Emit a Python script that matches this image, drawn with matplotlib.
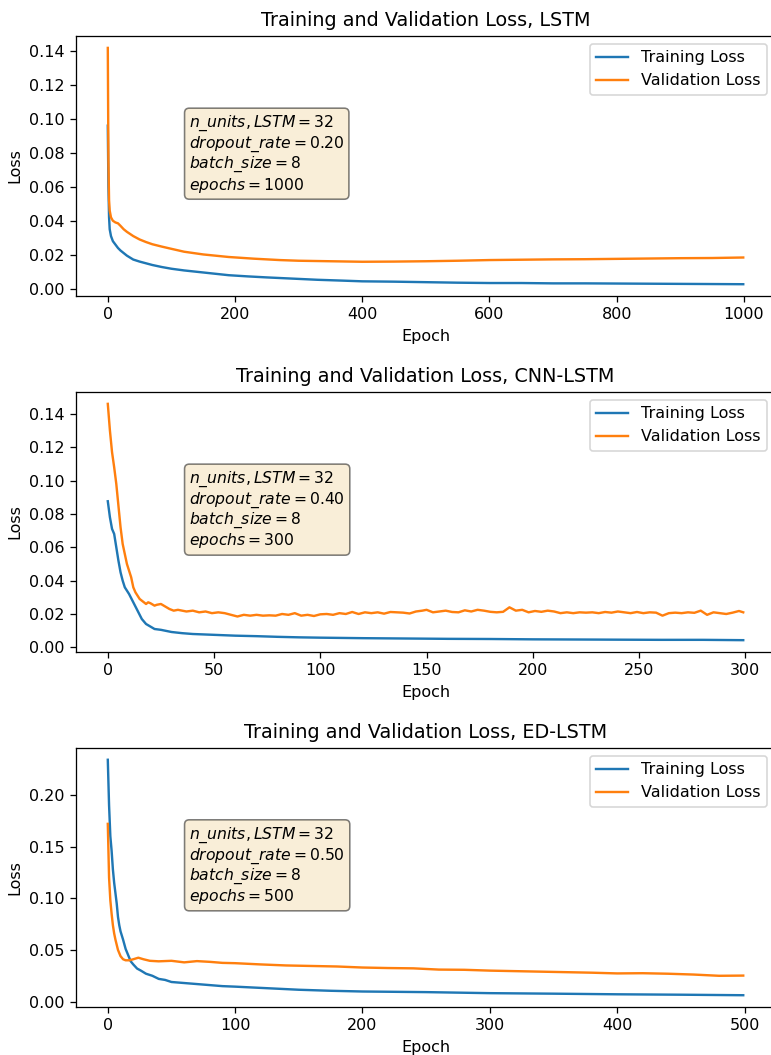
import matplotlib
matplotlib.use('Agg')
import matplotlib.pyplot as plt

# LSTM (1000 epochs)
lstm_train_ep = [0, 1, 2, 3, 5, 8, 12, 16, 20, 25, 30, 40, 50, 60, 70, 85, 100, 120, 140, 160, 190,
                 220, 250, 290, 330, 370, 400, 450, 500, 550, 600, 650, 700, 750, 800, 850, 900, 950, 999]
lstm_train = [0.0959, 0.060, 0.042, 0.035, 0.031, 0.028, 0.026, 0.024, 0.0225, 0.021, 0.0195, 0.0172, 0.016,
              0.015, 0.014, 0.0128, 0.0118, 0.0108, 0.0100, 0.0092, 0.0080, 0.0073, 0.0067, 0.0060, 0.0053,
              0.0048, 0.0044, 0.0042, 0.0039, 0.0036, 0.0034, 0.0034, 0.0032, 0.0032, 0.0031, 0.0030,
              0.0029, 0.0028, 0.0027]
lstm_val_ep = [0, 1, 2, 3, 5, 8, 12, 16, 20, 25, 30, 40, 50, 60, 70, 85, 100, 120, 150, 190, 230, 270,
               300, 350, 400, 450, 500, 550, 600, 650, 700, 750, 800, 850, 900, 950, 999]
lstm_val = [0.1416, 0.075, 0.052, 0.046, 0.042, 0.040, 0.039, 0.0385, 0.037, 0.035, 0.0335, 0.031, 0.029,
            0.0275, 0.0262, 0.0248, 0.0235, 0.0218, 0.0202, 0.0187, 0.0177, 0.0169, 0.0165, 0.0162, 0.0159,
            0.0160, 0.0162, 0.0165, 0.0169, 0.0171, 0.0173, 0.0174, 0.0176, 0.0178, 0.0180, 0.0181, 0.0184]

# CNN-LSTM (300 epochs)
cnn_train_ep = [0, 1, 2, 3, 4, 5, 6, 7, 8, 9, 10, 12, 14, 16, 18, 20, 22, 25, 30, 35, 40, 50, 60, 70,
                80, 90, 100, 120, 140, 160, 180, 200, 220, 240, 260, 280, 299]
cnn_train = [0.0876, 0.078, 0.071, 0.068, 0.060, 0.052, 0.045, 0.040, 0.036, 0.034, 0.032, 0.027, 0.022,
             0.017, 0.014, 0.0125, 0.011, 0.0105, 0.0092, 0.0085, 0.0080, 0.0075, 0.0070, 0.0067, 0.0063,
             0.0060, 0.0058, 0.0055, 0.0053, 0.0051, 0.0050, 0.0048, 0.0047, 0.0046, 0.0045, 0.0045, 0.0043]
cnn_val_ep = [0, 1, 2, 3, 4, 5, 6, 7, 8, 9, 10, 11, 12, 13, 14, 15, 16, 18, 19, 20, 22, 23, 25, 27, 29,
              31, 33, 35, 37, 40, 43, 46, 49, 52, 55, 58, 61, 64, 67, 70, 73, 76, 79, 82, 85, 88, 91, 94,
              97, 100, 103, 106, 109, 112, 115, 118, 121, 124, 127, 130, 133, 136, 139, 142, 145, 148, 150,
              153, 156, 159, 162, 165, 168, 171, 174, 177, 180, 183, 186, 189, 192, 195, 198, 201, 204, 207,
              210, 213, 216, 219, 222, 225, 228, 231, 234, 237, 240, 243, 246, 249, 252, 255, 258, 261, 264,
              267, 270, 273, 276, 279, 282, 285, 288, 291, 294, 297, 299]
cnn_val = [0.146, 0.130, 0.117, 0.108, 0.098, 0.085, 0.072, 0.062, 0.056, 0.050, 0.046, 0.042, 0.036,
           0.033, 0.031, 0.029, 0.028, 0.026, 0.027, 0.0265, 0.025, 0.0255, 0.026, 0.0245, 0.023, 0.022,
           0.0225, 0.022, 0.0215, 0.022, 0.021, 0.0215, 0.0205, 0.021, 0.0205, 0.0195, 0.0185, 0.0195,
           0.019, 0.0195, 0.019, 0.0192, 0.019, 0.020, 0.0195, 0.0205, 0.019, 0.0195, 0.0188, 0.0198,
           0.020, 0.0195, 0.0205, 0.020, 0.0212, 0.020, 0.021, 0.0205, 0.021, 0.0202, 0.0212, 0.021,
           0.0208, 0.0203, 0.0215, 0.022, 0.0225, 0.021, 0.0215, 0.022, 0.0212, 0.021, 0.0222, 0.0215,
           0.0225, 0.022, 0.0213, 0.021, 0.0213, 0.024, 0.022, 0.0225, 0.021, 0.0218, 0.0213, 0.022,
           0.0215, 0.0205, 0.021, 0.0205, 0.021, 0.0208, 0.021, 0.0205, 0.0212, 0.0208, 0.0215, 0.021,
           0.0205, 0.0212, 0.0205, 0.021, 0.0208, 0.019, 0.0205, 0.0208, 0.0205, 0.021, 0.0207, 0.022,
           0.0195, 0.021, 0.0205, 0.020, 0.0208, 0.0218, 0.021]

# ED-LSTM (500 epochs)
ed_train_ep = [0, 1, 2, 3, 4, 5, 6, 7, 8, 9, 10, 12, 14, 16, 18, 20, 23, 26, 30, 35, 40, 45, 50, 60, 70,
               80, 90, 100, 125, 150, 175, 200, 250, 300, 350, 400, 450, 499]
ed_train = [0.234, 0.19, 0.16, 0.146, 0.128, 0.115, 0.105, 0.095, 0.082, 0.074, 0.068, 0.060, 0.051,
            0.045, 0.039, 0.036, 0.032, 0.030, 0.027, 0.025, 0.022, 0.021, 0.019, 0.018, 0.017, 0.016,
            0.015, 0.0145, 0.013, 0.0115, 0.0105, 0.0098, 0.0092, 0.0082, 0.0077, 0.0071, 0.0067, 0.0062]
ed_val_ep = [0, 1, 2, 3, 4, 5, 6, 7, 8, 9, 10, 12, 14, 17, 20, 24, 28, 33, 40, 50, 60, 70, 80, 90, 100,
             120, 140, 160, 180, 200, 220, 240, 260, 280, 300, 320, 340, 360, 380, 400, 420, 440, 460,
             480, 499]
ed_val = [0.172, 0.120, 0.098, 0.085, 0.074, 0.066, 0.060, 0.055, 0.050, 0.047, 0.044, 0.041, 0.040,
          0.040, 0.041, 0.0425, 0.041, 0.0395, 0.039, 0.0395, 0.038, 0.0392, 0.0385, 0.0375, 0.0372,
          0.036, 0.035, 0.0345, 0.034, 0.033, 0.0325, 0.0322, 0.031, 0.0308, 0.030, 0.0295, 0.029,
          0.0285, 0.028, 0.0273, 0.0275, 0.027, 0.0262, 0.025, 0.0252]

titles = ['Training and Validation Loss, LSTM',
          'Training and Validation Loss, CNN-LSTM',
          'Training and Validation Loss, ED-LSTM']
dropouts = [0.20, 0.40, 0.50]
n_epochs = [1000, 300, 500]

dpi = 115
fig = plt.figure(figsize=(771 / dpi, 1055 / dpi), dpi=dpi)
ax1 = fig.add_axes([0.0986, 0.7194, 0.9066, 0.2464])
ax2 = fig.add_axes([0.0986, 0.3820, 0.9066, 0.2464])
ax3 = fig.add_axes([0.0986, 0.0455, 0.9066, 0.2455])

series = [(lstm_train_ep, lstm_train, lstm_val_ep, lstm_val),
          (cnn_train_ep, cnn_train, cnn_val_ep, cnn_val),
          (ed_train_ep, ed_train, ed_val_ep, ed_val)]

props = dict(boxstyle='round', facecolor='wheat', alpha=0.5)

for ax, (tx, ty, vx, vy), title, dr, ne in zip([ax1, ax2, ax3], series, titles, dropouts, n_epochs):
    ax.plot(tx, ty, label='Training Loss')
    ax.plot(vx, vy, label='Validation Loss')
    ax.set_title(title)
    ax.set_xlabel('Epoch')
    ax.set_ylabel('Loss')
    ax.legend(loc='upper right')
    txt = '\n'.join([r'$n\_units, LSTM=%d$' % 32,
                     r'$dropout\_rate=%.2f$' % dr,
                     r'$batch\_size=%d$' % 8,
                     r'$epochs=%d$' % ne])
    ax.text(0.162, 0.70, txt, transform=ax.transAxes, fontsize=9.8, linespacing=1.08,
            verticalalignment='top', bbox=props)

fig.savefig('out.png', dpi=dpi)
